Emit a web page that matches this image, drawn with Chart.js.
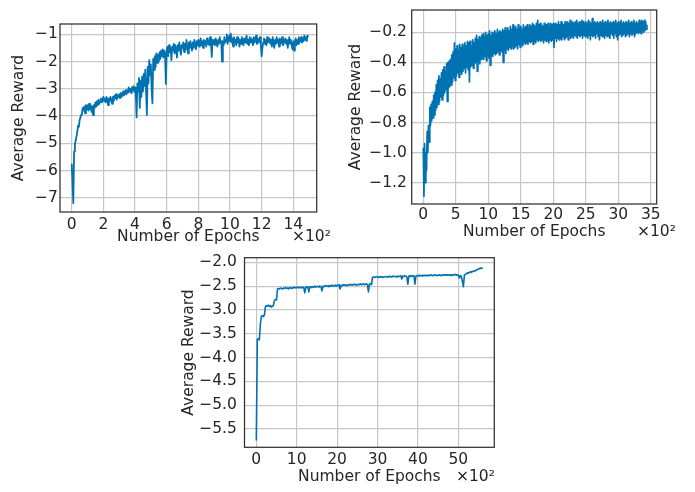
<!DOCTYPE html>
<html>
<head>
<meta charset="utf-8">
<script src="https://cdn.jsdelivr.net/npm/chart.js@4.4.1/dist/chart.umd.min.js"></script>
<style>
  body { margin: 0; background: #fff; }
  #page { position: relative; width: 695px; height: 492px; overflow: hidden; background: #fff; }
  canvas { position: absolute; }
  .mult { position: absolute; font-family: "DejaVu Sans"; font-size: 15.5px; line-height: 1; color: #262626; white-space: nowrap; }
</style>
</head>
<body>
<div id="page">
  <canvas id="c1" width="345" height="250" style="left:0px;top:0px"></canvas>
  <canvas id="c2" width="350" height="250" style="left:345px;top:0px"></canvas>
  <canvas id="c3" width="360" height="242" style="left:170px;top:250px"></canvas>
  <div class="mult" style="left:292px;top:229px">×10²</div>
  <div class="mult" style="left:637px;top:223.6px">×10²</div>
  <div class="mult" style="left:456px;top:469px">×10²</div>
</div>
<script>
// ---- data (x in units of 10^2 epochs) ----
const xTicks1 = [0, 2, 4, 6, 8, 10, 12, 14];
const xLabels1 = ['0', '2', '4', '6', '8', '10', '12', '14'];
const yTicks1 = [-7, -6, -5, -4, -3, -2, -1];
const yLabels1 = ['−7', '−6', '−5', '−4', '−3', '−2', '−1'];
const epochStep1 = 5;
const reward1 = [
  -5.75, -6.4, -7.2, -5.3, -5.05, -4.9, -4.75, -4.6, -4.35, -4.4,
  -4.15, -4.05, -3.95, -3.85, -3.7, -3.8, -3.65, -3.9, -3.6, -3.75,
  -3.6, -3.8, -3.55, -3.75, -3.6, -3.85, -3.65, -3.97, -3.6, -3.7,
  -3.5, -3.65, -3.45, -3.6, -3.4, -3.55, -3.45, -3.35, -3.5, -3.4,
  -3.3, -3.45, -3.35, -3.5, -3.3, -3.4, -3.6, -3.35, -3.45, -3.3,
  -3.4, -3.55, -3.3, -3.45, -3.25, -3.35, -3.2, -3.4, -3.25, -3.3,
  -3.2, -3.35, -3.15, -3.3, -3.2, -3.1, -3.25, -3.15, -3.05, -3.2,
  -3.05, -3.15, -2.95, -3.1, -3.0, -3.15, -2.95, -3.05, -2.9, -3.1,
  -2.95, -3.2, -4.05, -2.8, -3.1, -2.6, -3.7, -2.7, -3.3, -2.55,
  -3.1, -2.45, -2.9, -2.3, -3.1, -3.96, -2.2, -2.8, -1.95, -2.5,
  -2.1, -3.0, -3.53, -1.9, -2.3, -1.8, -2.2, -1.7, -2.05, -1.75,
  -2.0, -1.65, -1.9, -1.6, -1.8, -1.55, -1.85, -1.6, -1.75, -2.82,
  -1.6, -1.45, -1.8, -1.4, -1.65, -1.5, -1.95, -1.45, -1.6, -1.35,
  -1.7, -1.4, -1.55, -1.85, -1.4, -1.6, -1.3, -1.55, -1.75, -1.4,
  -1.5, -1.3, -1.65, -1.35, -1.55, -1.2, -1.45, -1.7, -1.3, -1.5,
  -1.25, -1.45, -1.6, -1.3, -1.5, -1.2, -1.4, -1.55, -1.25, -1.4,
  -1.2, -1.45, -1.3, -1.15, -1.4, -1.25, -1.5, -1.2, -1.35, -1.25,
  -1.45, -1.15, -1.35, -1.25, -1.4, -1.1, -1.3, -1.83, -1.2, -1.35,
  -1.2, -1.4, -1.15, -1.3, -1.45, -1.2, -1.35, -1.1, -1.3, -1.25,
  -2.0, -1.25, -1.4, -1.1, -1.3, -1.2, -1.0, -1.35, -1.15, -1.05,
  -1.25, -0.97, -1.3, -1.15, -1.45, -1.1, -1.3, -1.2, -1.4, -1.1,
  -1.3, -1.15, -1.45, -1.2, -1.35, -1.1, -1.25, -1.4, -1.15, -1.3,
  -1.2, -1.05, -1.35, -1.2, -1.4, -1.1, -1.3, -1.15, -1.25, -1.4,
  -1.1, -1.3, -1.2, -1.05, -1.35, -1.15, -1.3, -1.2, -1.1, -1.4,
  -1.8, -1.5, -1.3, -1.15, -1.35, -1.2, -1.4, -1.1, -1.3, -1.25,
  -1.15, -1.35, -1.2, -1.45, -1.1, -1.3, -1.5, -1.2, -1.35, -1.1,
  -1.3, -1.2, -1.45, -1.15, -1.35, -1.25, -1.1, -1.4, -1.2, -1.3,
  -1.15, -1.35, -1.2, -1.5, -1.25, -1.1, -1.35, -1.2, -1.4, -1.55,
  -1.25, -1.6, -1.3, -1.15, -1.4, -1.2, -1.35, -1.1, -1.3, -1.2,
  -1.1, -1.3, -1.15, -1.25, -1.05, -1.2, -1.1, -1.25, -1.05, -1.1
];

const xTicks2 = [0, 5, 10, 15, 20, 25, 30, 35];
const xLabels2 = ['0', '5', '10', '15', '20', '25', '30', '35'];
const yTicks2 = [-1.2, -1.0, -0.8, -0.6, -0.4, -0.2];
const yLabels2 = ['−1.2', '−1.0', '−0.8', '−0.6', '−0.4', '−0.2'];
const epochStep2 = 10;
const reward2 = [
  -0.97, -1.29, -0.94, -1.2, -1.0, -1.12, -0.86, -1.0, -0.82, -0.93,
  -0.7, -0.82, -0.68, -0.79, -0.66, -0.77, -0.62, -0.75, -0.6, -0.72,
  -0.55, -0.7, -0.52, -0.68, -0.49, -0.66, -0.51, -0.63, -0.47, -0.65,
  -0.45, -0.62, -0.43, -0.6, -0.46, -0.58, -0.41, -0.66, -0.4, -0.57,
  -0.39, -0.56, -0.38, -0.55, -0.35, -0.53, -0.33, -0.5, -0.27, -0.52,
  -0.31, -0.49, -0.29, -0.47, -0.32, -0.5, -0.28, -0.46, -0.3, -0.48,
  -0.28, -0.46, -0.3, -0.44, -0.27, -0.47, -0.29, -0.43, -0.26, -0.45,
  -0.27, -0.53, -0.26, -0.43, -0.29, -0.42, -0.25, -0.44, -0.27, -0.41,
  -0.24, -0.4, -0.22, -0.46, -0.25, -0.39, -0.23, -0.41, -0.24, -0.38,
  -0.22, -0.37, -0.21, -0.38, -0.23, -0.36, -0.2, -0.39, -0.22, -0.35,
  -0.21, -0.37, -0.19, -0.42, -0.22, -0.35, -0.2, -0.36, -0.21, -0.34,
  -0.19, -0.35, -0.21, -0.34, -0.18, -0.33, -0.2, -0.35, -0.19, -0.32,
  -0.2, -0.33, -0.18, -0.4, -0.19, -0.32, -0.17, -0.34, -0.19, -0.31,
  -0.17, -0.32, -0.19, -0.3, -0.16, -0.31, -0.18, -0.29, -0.15, -0.31,
  -0.17, -0.3, -0.16, -0.29, -0.18, -0.31, -0.15, -0.28, -0.17, -0.3,
  -0.16, -0.28, -0.18, -0.29, -0.15, -0.27, -0.17, -0.28, -0.16, -0.27,
  -0.15, -0.28, -0.17, -0.26, -0.15, -0.27, -0.16, -0.26, -0.14, -0.28,
  -0.15, -0.26, -0.16, -0.27, -0.14, -0.25, -0.12, -0.26, -0.15, -0.25,
  -0.14, -0.26, -0.15, -0.25, -0.16, -0.27, -0.14, -0.25, -0.15, -0.26,
  -0.15, -0.25, -0.14, -0.27, -0.16, -0.25, -0.14, -0.26, -0.15, -0.25,
  -0.14, -0.3, -0.15, -0.24, -0.14, -0.26, -0.15, -0.24, -0.13, -0.25,
  -0.15, -0.24, -0.13, -0.25, -0.14, -0.23, -0.15, -0.25, -0.13, -0.24,
  -0.14, -0.23, -0.13, -0.25, -0.14, -0.22, -0.12, -0.24, -0.14, -0.23,
  -0.13, -0.24, -0.14, -0.22, -0.13, -0.23, -0.12, -0.24, -0.14, -0.22,
  -0.13, -0.23, -0.14, -0.22, -0.12, -0.24, -0.13, -0.22, -0.14, -0.23,
  -0.13, -0.22, -0.14, -0.24, -0.12, -0.22, -0.13, -0.25, -0.14, -0.22,
  -0.11, -0.23, -0.14, -0.22, -0.13, -0.24, -0.14, -0.21, -0.13, -0.23,
  -0.14, -0.25, -0.13, -0.22, -0.14, -0.23, -0.12, -0.22, -0.14, -0.24,
  -0.13, -0.22, -0.14, -0.23, -0.12, -0.22, -0.14, -0.24, -0.13, -0.21,
  -0.14, -0.22, -0.13, -0.24, -0.14, -0.21, -0.12, -0.23, -0.14, -0.25,
  -0.13, -0.22, -0.14, -0.21, -0.12, -0.23, -0.14, -0.22, -0.13, -0.21,
  -0.14, -0.23, -0.13, -0.22, -0.14, -0.21, -0.12, -0.23, -0.14, -0.21,
  -0.13, -0.22, -0.14, -0.21, -0.12, -0.23, -0.14, -0.21, -0.13, -0.2,
  -0.14, -0.21, -0.12, -0.2, -0.13, -0.21, -0.12, -0.19, -0.13, -0.2,
  -0.12, -0.19, -0.13, -0.18, -0.15
];

const xTicks3 = [0, 10, 20, 30, 40, 50];
const xLabels3 = ['0', '10', '20', '30', '40', '50'];
const yTicks3 = [-5.5, -5.0, -4.5, -4.0, -3.5, -3.0, -2.5, -2.0];
const yLabels3 = ['−5.5', '−5.0', '−4.5', '−4.0', '−3.5', '−3.0', '−2.5', '−2.0'];
const epochStep3 = 25;
const reward3 = [
  -5.74, -3.62, -3.6, -3.63, -3.3, -3.13, -3.12, -3.14, -3.11, -2.93,
  -2.91, -2.92, -2.9, -2.93, -2.91, -2.94, -2.92, -2.9, -2.8, -2.78,
  -2.79, -2.56, -2.55, -2.56, -2.54, -2.55, -2.56, -2.54, -2.55, -2.53,
  -2.55, -2.54, -2.56, -2.53, -2.54, -2.55, -2.53, -2.54, -2.52, -2.54,
  -2.53, -2.52, -2.54, -2.53, -2.52, -2.54, -2.52, -2.53, -2.64, -2.52,
  -2.53, -2.51, -2.62, -2.52, -2.51, -2.53, -2.51, -2.52, -2.5, -2.52,
  -2.51, -2.5, -2.52, -2.5, -2.51, -2.6, -2.5, -2.51, -2.49, -2.5,
  -2.5, -2.49, -2.51, -2.49, -2.5, -2.48, -2.5, -2.49, -2.48, -2.5,
  -2.48, -2.49, -2.47, -2.56, -2.48, -2.49, -2.47, -2.48, -2.47, -2.49,
  -2.48, -2.47, -2.48, -2.46, -2.47, -2.48, -2.46, -2.47, -2.46, -2.48,
  -2.47, -2.46, -2.47, -2.45, -2.47, -2.46, -2.45, -2.47, -2.46, -2.45,
  -2.47, -2.62, -2.46, -2.45, -2.47, -2.32, -2.31, -2.32, -2.31, -2.3,
  -2.31, -2.32, -2.3, -2.31, -2.3, -2.32, -2.31, -2.3, -2.31, -2.3,
  -2.3, -2.31, -2.29, -2.3, -2.31, -2.29, -2.3, -2.29, -2.3, -2.31,
  -2.29, -2.3, -2.29, -2.28, -2.35, -2.29, -2.3, -2.28, -2.29, -2.3,
  -2.46, -2.29, -2.28, -2.3, -2.28, -2.29, -2.28, -2.46, -2.29, -2.28,
  -2.28, -2.29, -2.27, -2.28, -2.29, -2.27, -2.28, -2.27, -2.28, -2.27,
  -2.28, -2.27, -2.28, -2.26, -2.27, -2.28, -2.27, -2.26, -2.27, -2.28,
  -2.27, -2.26, -2.27, -2.28, -2.26, -2.27, -2.26, -2.27, -2.26, -2.27,
  -2.26, -2.27, -2.26, -2.28, -2.26, -2.27, -2.26, -2.25, -2.27, -2.26,
  -2.27, -2.33, -2.28, -2.3, -2.4, -2.51, -2.27, -2.25, -2.24, -2.22,
  -2.23, -2.21, -2.2, -2.21, -2.19, -2.18, -2.19, -2.17, -2.16, -2.15,
  -2.14, -2.13, -2.12, -2.13, -2.11
];

// ---- styling ----
const FS = 15.5;
const LH = FS * 1.2;
const MID = 0.346 * FS; // canvas 'middle' -> alphabetic baseline offset
const TEXT = '#262626';
const LINE = '#0072b2';
const GRID = '#c6c6c6';

Chart.defaults.font.family = '"DejaVu Sans", sans-serif';
Chart.defaults.font.size = FS;
Chart.defaults.color = TEXT;

const frame = {
  id: 'frame',
  afterDatasetsDraw(chart) {
    const a = chart.chartArea, ctx = chart.ctx;
    ctx.save();
    ctx.strokeStyle = '#303030';
    ctx.lineWidth = 1.25;
    ctx.strokeRect(a.left, a.top, a.right - a.left, a.bottom - a.top);
    ctx.restore();
  }
};

// lay: plot box, label targets in page pixels
function panel(id, rewards, step, xTicks, xLabels, yTicks, yLabels, xRange, yRange, lay) {
  const cv = document.getElementById(id);
  const bx = cv.offsetLeft, by = cv.offsetTop;
  const [pl, pr, pt, pb] = lay.plot;
  const padLeft = (lay.yTitle - 0.086 * FS) - LH / 2 - bx;
  const yW = pl - bx - padLeft;
  const xH = (lay.xTitleBase - MID + LH / 2) - pb;
  const padBottom = by + cv.height - pb - xH;
  const xTickPad = lay.xTickBase - MID - LH / 2 - pb;
  const yTickPad = pl - lay.yTickRight - 1.2;

  const pts = rewards.map((v, i) => ({ x: i * step / 100, y: v }));

  return new Chart(cv, {
    type: 'line',
    data: {
      datasets: [{
        data: pts,
        borderColor: LINE,
        borderWidth: lay.lw,
        borderJoinStyle: 'round',
        pointRadius: 0,
        tension: 0,
        fill: false
      }]
    },
    options: {
      responsive: false,
      animation: false,
      events: [],
      layout: { padding: { left: padLeft, right: bx + cv.width - pr, top: pt - by, bottom: padBottom } },
      plugins: { legend: { display: false }, tooltip: { enabled: false } },
      scales: {
        x: {
          type: 'linear',
          min: xRange[0], max: xRange[1],
          afterBuildTicks: s => { s.ticks = xTicks.map(v => ({ value: v })); },
          afterFit: s => { s.height = xH; s.paddingLeft = 0; s.paddingRight = 0; },
          ticks: { autoSkip: false, maxRotation: 0, padding: xTickPad, callback: (v, i) => xLabels[i] },
          grid: { color: GRID, lineWidth: 1.2, drawTicks: false },
          border: { display: false },
          title: { display: true, text: 'Number of Epochs', padding: 0 }
        },
        y: {
          type: 'linear',
          min: yRange[0], max: yRange[1],
          afterBuildTicks: s => { s.ticks = yTicks.map(v => ({ value: v })); },
          afterFit: s => { s.width = yW; s.paddingTop = 0; s.paddingBottom = 0; },
          ticks: { autoSkip: false, padding: yTickPad, callback: (v, i) => yLabels[i] },
          grid: { color: GRID, lineWidth: 1.2, drawTicks: false },
          border: { display: false },
          title: { display: true, text: 'Average Reward', padding: 0 }
        }
      }
    },
    plugins: [frame]
  });
}

panel('c1', reward1, epochStep1, xTicks1, xLabels1, yTicks1, yLabels1, [-0.74, 15.48], [-7.525, -0.62],
  { plot: [60, 316.7, 24, 212], yTitle: 20.8, yTickRight: 56.7, xTickBase: 230, xTitleBase: 242.7, lw: 1.8 });
panel('c2', reward2, epochStep2, xTicks2, xLabels2, yTicks2, yLabels2, [-1.78, 35.9], [-1.342, -0.052],
  { plot: [411.7, 656.7, 10, 204], yTitle: 357.5, yTickRight: 405.7, xTickBase: 220, xTitleBase: 237, lw: 1.7 });
panel('c3', reward3, epochStep3, xTicks3, xLabels3, yTicks3, yLabels3, [-2.92, 58.9], [-5.884, -1.903],
  { plot: [244.5, 494.3, 257.7, 447.3], yTitle: 190, yTickRight: 235.7, xTickBase: 465.7, xTitleBase: 482.3, lw: 1.6 });
</script>
</body>
</html>
